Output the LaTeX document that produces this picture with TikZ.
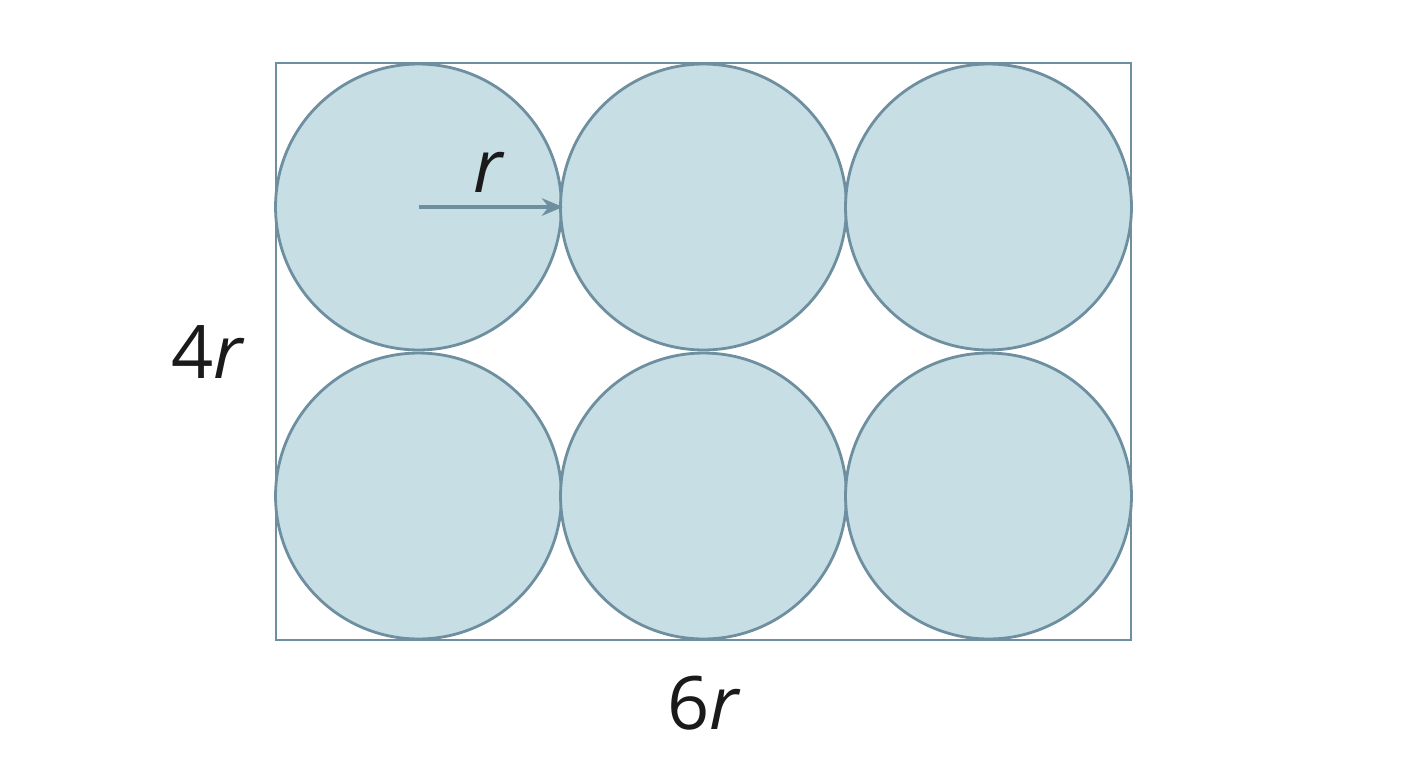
\documentclass[tikz,border=0pt]{standalone}
\usepackage{fontspec}
\setmainfont{Open Sans}
\usetikzlibrary{arrows.meta}
\definecolor{fillc}{HTML}{C6DEE4}
\definecolor{linec}{HTML}{6E8FA0}
\definecolor{txt}{HTML}{1A1A1A}
\begin{document}
\begin{tikzpicture}[x=0.02cm,y=-0.02cm,
  circ/.style={circle,draw=linec,fill=fillc,line width=1.6pt,minimum size=5.72cm,inner sep=0pt},
  lab/.style={text=txt,font=\fontsize{42}{50}\selectfont,inner sep=0pt}]
\useasboundingbox (0,0) rectangle (1408,768);
\node[draw=linec,line width=1.5pt,minimum width=17.1cm,minimum height=11.54cm,inner sep=0pt] (box) at (703.5,351.5) {};
\foreach \n/\x/\y in {a/418.5/207,b/703.5/207,c/988.5/207,d/418.5/496,e/703.5/496,f/988.5/496}
  \node[circ] (\n) at (\x,\y) {};
\draw[linec,line width=1.8pt,-{Stealth[length=12pt,width=10pt]}] (a.center) -- (a.east);
\node[lab] (rl) at (488,172) {\itshape r};
\node[lab] (h) at (207,352) {4\itshape r};
\node[lab] (w) at (703,703) {6\itshape r};
\end{tikzpicture}
\end{document}
